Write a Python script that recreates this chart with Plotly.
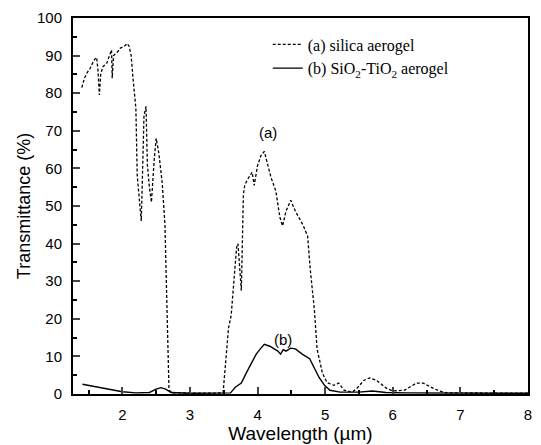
import plotly.graph_objects as go

# Curve (a) silica aerogel
xa = [1.40, 1.44, 1.48, 1.52, 1.56, 1.59, 1.62, 1.64, 1.66, 1.68, 1.71, 1.74, 1.77, 1.80, 1.84, 1.85,
      1.87, 1.93, 1.97, 2.03, 2.07, 2.10, 2.13, 2.16, 2.20, 2.22, 2.25, 2.28, 2.30, 2.32, 2.35, 2.37,
      2.40, 2.43, 2.47, 2.50, 2.54, 2.59, 2.63, 2.66, 2.69, 2.75, 3.0, 3.3, 3.49, 3.53, 3.57, 3.61,
      3.67, 3.69, 3.71, 3.74, 3.76, 3.79, 3.81, 3.85, 3.89, 3.92, 3.95, 4.00, 4.05, 4.10, 4.15, 4.20,
      4.27, 4.33, 4.37, 4.42, 4.49, 4.56, 4.67, 4.74, 4.78, 4.84, 4.88, 4.96, 5.03, 5.13, 5.20, 5.28,
      5.40, 5.47, 5.57, 5.66, 5.76, 5.91, 6.00, 6.17, 6.35, 6.45, 6.60, 6.69, 6.8, 7.5, 8.0]
ya = [81.5, 84, 85.5, 86.5, 88, 89, 89.5, 86, 79.5, 85, 87, 87.5, 88, 89.5, 91.5, 84,
      90, 91, 92, 92.5, 93.2, 92.5, 90, 83.5, 76, 58, 52, 46, 60, 74, 76.5, 61,
      55, 51, 62, 68, 64, 56, 45, 26, 1, 0.3, 0.2, 0.2, 0.3, 10, 17.5, 21,
      33, 39, 40, 33, 27.5, 53, 55.5, 57, 58, 59, 55.5, 60.8, 63.4, 64.5, 61, 57.5,
      54, 47, 44.7, 48.6, 51.5, 48.6, 45, 42, 33, 22.5, 12, 5.5, 3, 2.3, 2.9, 1,
      0.5, 1.5, 3.6, 4.3, 3.6, 1.5, 0.8, 1, 2.9, 2.9, 1.5, 0.8, 0.3, 0.2, 0.2]

# Curve (b) SiO2-TiO2 aerogel
xb = [1.41, 1.6, 1.8, 2.0, 2.2, 2.4, 2.5, 2.57, 2.64, 2.72, 3.0, 3.6, 3.67, 3.76, 3.83, 3.9,
      3.98, 4.05, 4.1, 4.18, 4.25, 4.30, 4.34, 4.38, 4.42, 4.49, 4.56, 4.66, 4.77, 4.84, 4.91,
      4.99, 5.07, 5.22, 5.5, 5.7, 5.9, 6.2, 8.0]
yb = [2.6, 2.0, 1.3, 0.6, 0.3, 0.4, 1.3, 1.7, 1.3, 0.4, 0.2, 0.3, 1.8, 2.9, 5.5, 8,
      10.6, 12.2, 13.2, 12.7, 12, 11.4, 10.6, 11.8, 11.4, 12.2, 12, 10.6, 9.4, 7, 4.4,
      2.3, 1, 0.5, 0.5, 0.8, 0.4, 0.3, 0.2]

x_ticks = [2, 3, 4, 5, 6, 7, 8]
y_ticks = [0, 10, 20, 30, 40, 50, 60, 70, 80, 90, 100]

fig = go.Figure()
fig.add_trace(go.Scatter(x=xa, y=ya, mode="lines", name="(a) silica aerogel",
                         line=dict(color="black", width=1.3, dash="3px,2px")))
fig.add_trace(go.Scatter(x=xb, y=yb, mode="lines", name="(b) SiO<sub>2</sub>-TiO<sub>2</sub> aerogel",
                         line=dict(color="black", width=1.4)))

fig.add_annotation(x=4.15, y=69.5, text="(a)", showarrow=False,
                   font=dict(family="Liberation Sans, Arial", size=15, color="black"))
fig.add_annotation(x=4.37, y=14.5, text="(b)", showarrow=False,
                   font=dict(family="Liberation Sans, Arial", size=15, color="black"))

fig.update_layout(
    width=541, height=445,
    margin=dict(l=73, r=9, t=9, b=51),
    paper_bgcolor="white", plot_bgcolor="white",
    showlegend=True,
    legend=dict(x=0.428, y=0.975, xanchor="left", yanchor="top",
                font=dict(family="Liberation Serif, Times New Roman", size=16, color="black"),
                bgcolor="rgba(0,0,0,0)", itemwidth=30, tracegroupgap=0),
    font=dict(family="Liberation Sans, Arial", color="black"),
)
fig.update_xaxes(range=[1.27, 8], tickvals=x_ticks, ticks="inside", ticklen=7, tickwidth=1.5,
                 showline=True, linewidth=2, linecolor="black", mirror=True, showgrid=False,
                 zeroline=False, tickfont=dict(size=15, color="black"), ticklabelstandoff=6,
                 minor=dict(dtick=0.5, tick0=0, ticks="inside", ticklen=4, tickcolor="black"),
                 title=dict(text="Wavelength (µm)", font=dict(size=19), standoff=0))
fig.update_yaxes(range=[0, 100], tickvals=y_ticks, ticks="inside", ticklen=7, tickwidth=1.5,
                 showline=True, linewidth=2, linecolor="black", mirror=True, showgrid=False,
                 zeroline=False, tickfont=dict(size=15, color="black"), ticklabelstandoff=6,
                 minor=dict(dtick=5, tick0=0, ticks="inside", ticklen=4, tickcolor="black"),
                 title=dict(text="Transmittance (%)", font=dict(size=18), standoff=2))

fig.write_html("out.html")
